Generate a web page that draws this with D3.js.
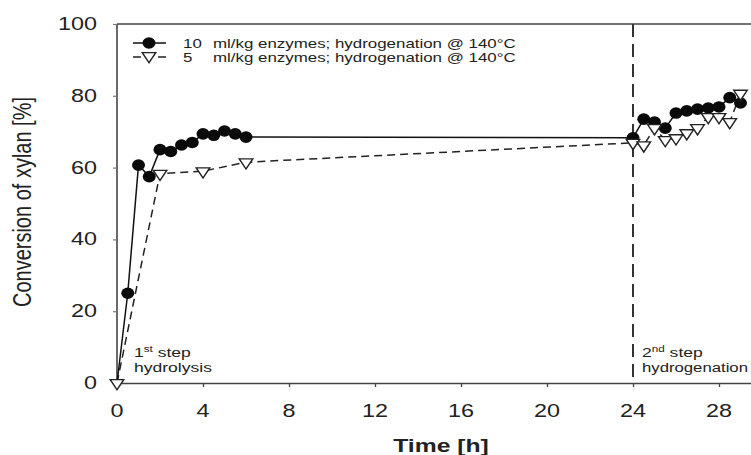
<!DOCTYPE html>
<html><head><meta charset="utf-8">
<script src="https://cdn.jsdelivr.net/npm/d3@7"></script>
<style>body{margin:0;background:#fff}svg{display:block}text{font-family:"Liberation Sans",Arial,sans-serif;fill:#222}</style>
</head><body>
<script>
// Data
const timeA = [0, 0.5, 1, 1.5, 2, 2.5, 3, 3.5, 4, 4.5, 5, 5.5, 6, 24, 24.5, 25, 25.5, 26, 26.5, 27, 27.5, 28, 28.5, 29];
const convA = [0, 25, 60.7, 57.5, 65, 64.5, 66.3, 67, 69.4, 69, 70.2, 69.4, 68.5, 68.3, 73.5, 72.7, 71, 75.2, 75.8, 76.3, 76.6, 76.9, 79.5, 78];
const timeB = [0, 2, 4, 6, 24, 24.5, 25, 25.5, 26, 26.5, 27, 27.5, 28, 28.5, 29];
const convB = [0, 58.3, 59, 61.5, 66.9, 66.2, 71, 67.7, 68.2, 69.6, 71, 74.1, 74.1, 72.7, 80.6];
const legendLabels = ["10", "5"];
const legendText = "ml/kg enzymes; hydrogenation @ 140°C";
const xTicks = [0, 4, 8, 12, 16, 20, 24, 28];
const yTicks = [0, 20, 40, 60, 80, 100];

const W = 751, H = 455, SX = 1.3;
const svg = d3.select("body").append("svg").attr("width", W).attr("height", H);
const x = d3.scaleLinear().domain([0, 30]).range([117, 117 + 30 * 21.5]);
const y = d3.scaleLinear().domain([0, 100]).range([383, 24]);

function stext(g, px, py, str, size, anchor, weight, sx) {
  return g.append("text").attr("transform", `translate(${px},${py}) scale(${sx || SX},1)`)
    .attr("font-size", size).attr("text-anchor", anchor || "start")
    .attr("font-weight", weight || "normal").text(str);
}

// frame
const axCol = "#444";
svg.append("line").attr("x1", x(0)).attr("x2", W).attr("y1", y(100)).attr("y2", y(100)).attr("stroke", axCol).attr("stroke-width", 1.6);
svg.append("line").attr("x1", x(0)).attr("x2", x(0)).attr("y1", y(100)).attr("y2", y(0)).attr("stroke", axCol).attr("stroke-width", 1.6);

// axes
const xAxis = svg.append("g").attr("transform", `translate(0,${y(0)})`)
  .call(d3.axisBottom(x).tickValues(xTicks).tickSize(4).tickFormat(""));
xAxis.select(".domain").attr("stroke", axCol).attr("stroke-width", 1.6);
xAxis.selectAll(".tick line").attr("stroke", axCol).attr("stroke-width", 1.3);
const yAxis = svg.append("g").attr("transform", `translate(${x(0)},0)`)
  .call(d3.axisLeft(y).tickValues(yTicks).tickSize(4).tickFormat(""));
yAxis.select(".domain").remove();
yAxis.selectAll(".tick line").attr("stroke", "#777").attr("stroke-width", 1.2);

xTicks.forEach(t => stext(svg, x(t), 417, String(t), 18, "middle"));
yTicks.forEach(t => stext(svg, 97, y(t) + 6, String(t), 18, "end"));

stext(svg, 441, 452, "Time [h]", 19, "middle", "bold");
svg.append("text").attr("transform", `translate(31,202) rotate(-90) scale(1,${SX})`)
  .attr("font-size", 20).attr("text-anchor", "middle").text("Conversion of xylan [%]");

// vertical dashed separator
svg.append("line").attr("x1", x(24)).attr("x2", x(24)).attr("y1", y(100)).attr("y2", y(0))
  .attr("stroke", "#333").attr("stroke-width", 2).attr("stroke-dasharray", "13,7");

// annotations
function stepLabel(px, num, sup, line2, sx) {
  const t = svg.append("text").attr("transform", `translate(${px},357) scale(${SX},1)`).attr("font-size", 13.5);
  t.append("tspan").text(num);
  t.append("tspan").attr("font-size", 9).attr("dy", -5).text(sup);
  t.append("tspan").attr("dy", 5).text(" step");
  stext(svg, px, 372, line2, 13.5, "start", "normal", sx);
}
stepLabel(134, "1", "st", "hydrolysis");
stepLabel(642, "2", "nd", "hydrogenation", 1.24);

// series lines
const line = d3.line().x(d => x(d[0])).y(d => y(d[1]));
const dataA = timeA.map((t, i) => [t, convA[i]]);
const dataB = timeB.map((t, i) => [t, convB[i]]);
svg.append("path").datum(dataB).attr("d", line).attr("fill", "none").attr("stroke", "#222")
  .attr("stroke-width", 1.5).attr("stroke-dasharray", "8,5");
svg.append("path").datum(dataA).attr("d", line).attr("fill", "none").attr("stroke", "#111")
  .attr("stroke-width", 1.5);

const tri = d3.symbol().type(d3.symbolTriangle).size(60);
function drawTri(g, px, py) {
  g.append("path").attr("d", tri()).attr("transform", `translate(${px},${py}) rotate(180) scale(1.15,1)`)
    .attr("fill", "#fff").attr("stroke", "#222").attr("stroke-width", 1.3);
}
svg.selectAll("ellipse.a").data(dataA.slice(1)).enter().append("ellipse")
  .attr("cx", d => x(d[0])).attr("cy", d => y(d[1])).attr("rx", 6.5).attr("ry", 5.8).attr("fill", "#0a0a0a");
dataB.forEach(d => drawTri(svg, x(d[0]), y(d[1])));

// legend
const lg = svg.append("g");
lg.append("line").attr("x1", 133).attr("x2", 166).attr("y1", 43).attr("y2", 43).attr("stroke", "#111").attr("stroke-width", 1.5);
lg.append("ellipse").attr("cx", 149).attr("cy", 43).attr("rx", 6.5).attr("ry", 5.8).attr("fill", "#0a0a0a");
lg.append("line").attr("x1", 133).attr("x2", 166).attr("y1", 57).attr("y2", 57).attr("stroke", "#222").attr("stroke-width", 1.5).attr("stroke-dasharray", "8,17");
drawTri(lg, 149, 56);
legendLabels.forEach((l, i) => {
  stext(lg, 183, 48 + i * 14, l, 13, "start");
  stext(lg, 213, 48 + i * 14, legendText, 13, "start");
});
</script>
</body></html>
